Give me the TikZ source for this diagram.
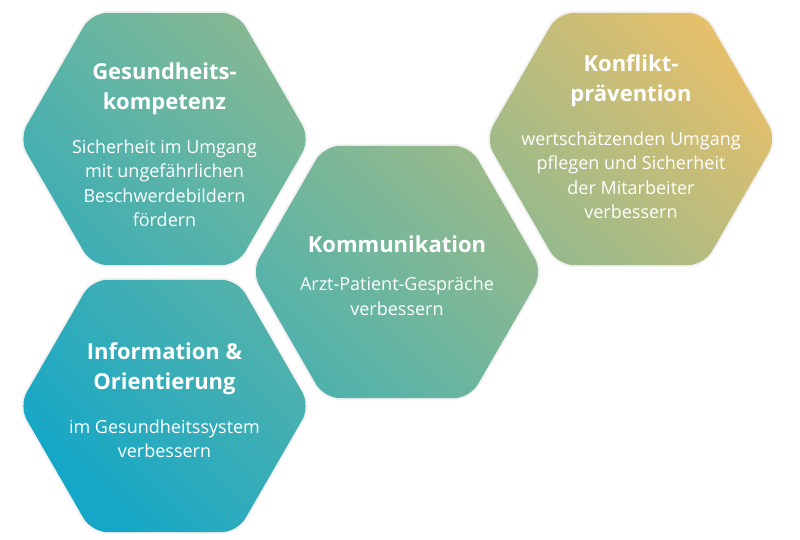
\documentclass[tikz,border=0pt]{standalone}
\usepackage{fontspec}
\setmainfont{Open Sans}
\usepackage{tikz}
\usetikzlibrary{
	positioning,      % Titel und Text untereinander
	shapes.geometric  % Sechsecke (regular polygon)
}

% Farbverlauf ueber das ganze Bild (blau unten links -> gold oben rechts)
\definecolor{waben1}{RGB}{20,167,200}
\definecolor{waben2}{RGB}{95,180,165}
\definecolor{waben3}{RGB}{132,184,148}
\definecolor{waben4}{RGB}{232,192,106}
\pgfdeclarehorizontalshading{wabenverlauf}{1000bp}{%
	color(0bp)=(waben1); color(118bp)=(waben1); color(422bp)=(waben2);
	color(557bp)=(waben3); color(893bp)=(waben4); color(1000bp)=(waben4)}

\tikzset{
	wabe/.style={regular polygon, regular polygon sides=6, minimum size=291pt, inner sep=0pt},
	titel/.style={text=white, align=center, inner sep=0pt, font=\fontsize{22}{30}\selectfont\bfseries},
	inhalt/.style={text=white, align=center, inner sep=0pt, font=\fontsize{18}{24.5}\selectfont},
}

\begin{document}
\begin{tikzpicture}[x=1pt, y=1pt]
	\useasboundingbox (0,0) rectangle (800,-540);
	
	% --- Waben ---
	\node[wabe] (gesund) at (164.5,-139) {};
	\node[wabe] (info) at (164.5,-406) {};
	\node[wabe] (komm) at (397,-272) {};
	\node[wabe] (konflikt) at (631,-139) {};
	
	% leichter Schatten
	\foreach \w in {gesund,info,komm,konflikt}
	\draw[black, opacity=.05, line width=4pt, rounded corners=16pt]
	(\w.corner 1) -- (\w.corner 2) -- (\w.corner 3) -- (\w.corner 4) -- (\w.corner 5) -- (\w.corner 6) -- cycle;
	
	% --- Fuellung ---
	\begin{scope}
		\clip[rounded corners=16pt] \foreach \w in {gesund,info,komm,konflikt}
		{(\w.corner 1) -- (\w.corner 2) -- (\w.corner 3) -- (\w.corner 4) -- (\w.corner 5) -- (\w.corner 6) -- cycle};
		\node[inner sep=0pt, rotate=45] (verlauf) at (400,-270) {\pgfuseshading{wabenverlauf}};
	\end{scope}
	
	% --- Texte ---
	\node[titel] (t-gesund) at ([yshift=50]gesund.center) {Gesundheits-\\kompetenz};
	\node[inhalt, below=24pt of t-gesund] (i-gesund) {Sicherheit im Umgang\\mit ungefährlichen\\Beschwerdebildern\\fördern};
	
	\node[titel] (t-info) at ([yshift=37]info.center) {Information \&\\Orientierung};
	\node[inhalt, below=24pt of t-info] (i-info) {im Gesundheitssystem\\verbessern};
	
	\node[titel] (t-komm) at ([yshift=28]komm.center) {Kommunikation};
	\node[inhalt, below=24pt of t-komm] (i-komm) {Arzt-Patient-Gespräche\\verbessern};
	
	\node[titel] (t-konflikt) at ([yshift=58]konflikt.center) {Konflikt-\\prävention};
	\node[inhalt, below=24pt of t-konflikt] (i-konflikt) {wertschätzenden Umgang\\pflegen und Sicherheit\\der Mitarbeiter\\verbessern};
\end{tikzpicture}
\end{document}
